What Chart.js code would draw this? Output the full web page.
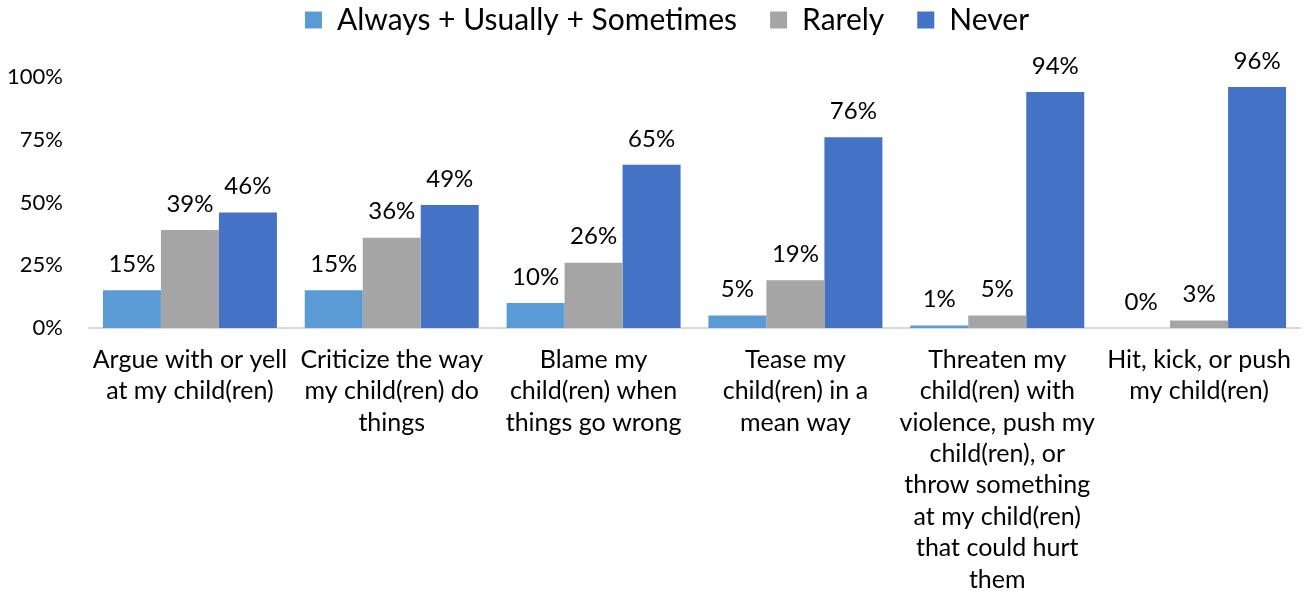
<!DOCTYPE html>
<html>
<head>
<meta charset="utf-8">
<script src="https://cdn.jsdelivr.net/npm/chart.js@4"></script>
<style>
  html, body { margin: 0; padding: 0; background: #fff; }
  #wrap { width: 1310px; height: 592px; }
</style>
</head>
<body>
<div id="wrap"><canvas id="chart"></canvas></div>
<script>
const categories = [
    ["Argue with or yell", "at my child(ren)"],
    ["Criticize the way", "my child(ren) do", "things"],
    ["Blame my", "child(ren) when", "things go wrong"],
    ["Tease my", "child(ren) in a", "mean way"],
    ["Threaten my", "child(ren) with", "violence, push my", "child(ren), or", "throw something", "at my child(ren)", "that could hurt", "them"],
    ["Hit, kick, or push", "my child(ren)"]
];
const seriesNames = ["Always + Usually + Sometimes", "Rarely", "Never"];
const sometimes = [15, 15, 10, 5, 1, 0];
const rarely = [39, 36, 26, 19, 5, 3];
const never = [46, 49, 65, 76, 94, 96];
const yTicks = [0, 25, 50, 75, 100];

const colors = ["#5b9bd5", "#a5a5a5", "#4472c4"];
const FONT = "Lato, 'Open Sans', sans-serif";

// draws the value above each bar
const barLabels = {
    id: "barLabels",
    afterDatasetsDraw(chart) {
        const c = chart.ctx;
        c.save();
        c.font = "24px " + FONT;
        c.fillStyle = "#000";
        c.textAlign = "center";
        c.textBaseline = "middle";
        chart.data.datasets.forEach((ds, i) => {
            chart.getDatasetMeta(i).data.forEach((bar, j) => {
                c.fillText(ds.data[j] + "%", bar.x, bar.y - 26);
            });
        });
        c.restore();
    }
};

// legend box reaches down to the top of the plot, nudged a bit right
const legendGap = {
    id: "legendGap",
    beforeInit(chart) {
        const fit = chart.legend.fit;
        chart.legend.fit = function () {
            fit.call(this);
            this.height = 105;
        };
    },
    afterLayout(chart) {
        chart.legend.left += 17;
        chart.legend.right += 17;
    }
};

new Chart(document.getElementById("chart"), {
    type: "bar",
    data: {
        labels: categories,
        datasets: [
            { label: seriesNames[0], data: sometimes, backgroundColor: colors[0] },
            { label: seriesNames[1], data: rarely, backgroundColor: colors[1] },
            { label: seriesNames[2], data: never, backgroundColor: colors[2] }
        ]
    },
    options: {
        responsive: true,
        maintainAspectRatio: false,
        animation: false,
        layout: { padding: { top: -28, right: 10, left: 0, bottom: 0 } },
        datasets: { bar: { categoryPercentage: 0.862, barPercentage: 1.0 } },
        plugins: {
            legend: {
                position: "top",
                labels: {
                    font: { family: FONT, size: 30 },
                    color: "#000",
                    boxWidth: 17,
                    boxHeight: 17,
                    padding: 33
                }
            },
            tooltip: { enabled: false }
        },
        scales: {
            x: {
                afterFit(axis) { axis.height = 264; },
                grid: { display: false, drawTicks: false },
                border: { color: "#d9d9d9", width: 2 },
                ticks: {
                    font: { family: FONT, size: 25, lineHeight: 1.256 },
                    color: "#000",
                    maxRotation: 0,
                    autoSkip: false,
                    padding: 16
                }
            },
            y: {
                min: 0,
                max: 100,
                afterBuildTicks(axis) { axis.ticks = yTicks.map(v => ({ value: v })); },
                afterFit(axis) { axis.width = 89; },
                grid: { display: false, drawTicks: false },
                border: { display: false },
                ticks: {
                    font: { family: FONT, size: 22 },
                    color: "#000",
                    padding: 26,
                    callback: v => v + "%"
                }
            }
        }
    },
    plugins: [barLabels, legendGap]
});
</script>
</body>
</html>
